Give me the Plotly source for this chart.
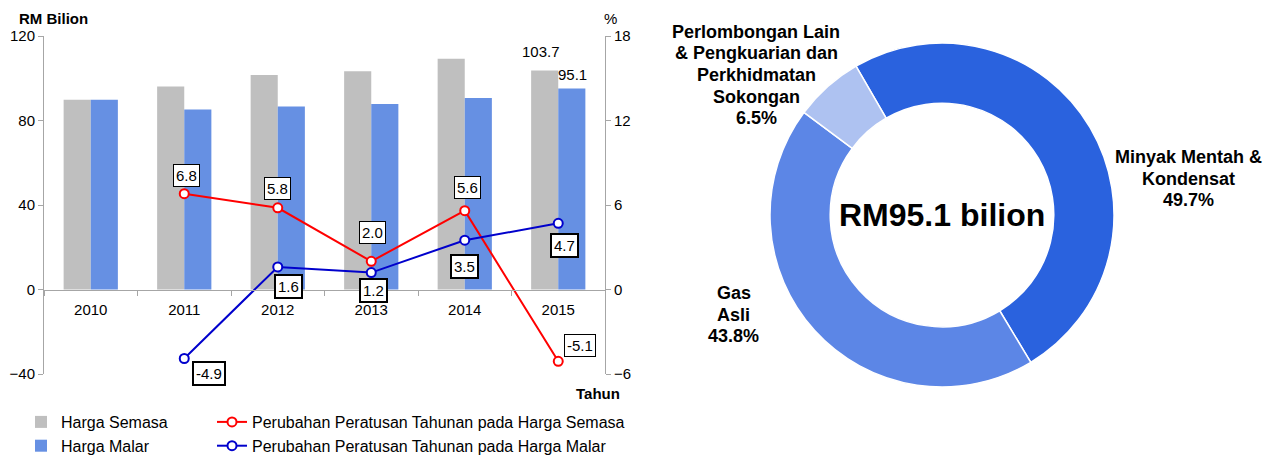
import plotly.graph_objects as go

W, H = 1272, 457
OFF = 8  # default page body margin
FW, FH = W - OFF, H - OFF

years = ["2010", "2011", "2012", "2013", "2014", "2015"]
harga_semasa = [89.8, 96.1, 101.5, 103.3, 109.2, 103.7]
harga_malar = [89.8, 85.2, 86.6, 87.8, 90.6, 95.1]
line_years = ["2011", "2012", "2013", "2014", "2015"]
pct_semasa = [6.8, 5.8, 2.0, 5.6, -5.1]
pct_malar = [-4.9, 1.6, 1.2, 3.5, 4.7]

pie_labels = [["Minyak Mentah &", "Kondensat"], ["Gas", "Asli"],
              ["Perlombongan Lain", "& Pengkuarian dan", "Perkhidmatan", "Sokongan"]]
pie_values = [49.7, 43.8, 6.5]
pie_colors = ["#2A62DE", "#5C86E6", "#AEC2F1"]
pie_total_text = "RM95.1 bilion"

FONT = "Liberation Sans, Arial, sans-serif"


def px(x):
    return (x - OFF) / FW


def py(y):
    return 1 - (y - OFF) / FH


fig = go.Figure()

fig.add_trace(go.Bar(x=years, y=harga_semasa, name="Harga Semasa",
                     marker=dict(color="#BFBFBF", line=dict(width=0)),
                     legend="legend", hoverinfo="skip"))
fig.add_trace(go.Bar(x=years, y=harga_malar, name="Harga Malar",
                     marker=dict(color="#6690E3", line=dict(width=0)),
                     legend="legend", hoverinfo="skip"))
fig.add_trace(go.Scatter(x=line_years, y=pct_semasa, yaxis="y2",
                         name="Perubahan Peratusan Tahunan pada Harga Semasa",
                         mode="lines+markers",
                         line=dict(color="#FF0000", width=2),
                         marker=dict(symbol="circle", size=9, color="white",
                                     line=dict(color="#FF0000", width=2)),
                         legend="legend2"))
fig.add_trace(go.Scatter(x=line_years, y=pct_malar, yaxis="y2",
                         name="Perubahan Peratusan Tahunan pada Harga Malar",
                         mode="lines+markers",
                         line=dict(color="#0000CC", width=2),
                         marker=dict(symbol="circle", size=9, color="white",
                                     line=dict(color="#0000CC", width=2)),
                         legend="legend2"))

# donut
cx, cy, r = 942, 215, 172
pie_names = [" ".join(l) for l in pie_labels]
fig.add_trace(go.Pie(values=pie_values, labels=pie_names, sort=False,
                     direction="clockwise", rotation=-30, hole=0.65,
                     marker=dict(colors=pie_colors, line=dict(color="white", width=1.5)),
                     textinfo="none", showlegend=False, hoverinfo="skip",
                     domain=dict(x=[px(cx - r), px(cx + r)], y=[py(cy + r), py(cy - r)])))

annotations = []

# line value boxes (category axis annotations use the category index)
red_off = [(2, 18), (0, 19), (1, 29), (3, 23), (22, 16)]
blue_off = [(25, -15), (11, -20), (2, -18), (0, -26), (6, -22)]
for yr, v, (dx, dy) in zip(line_years, pct_semasa, red_off):
    annotations.append(dict(x=years.index(yr), y=v, xref="x", yref="y2", text=f"{v:.1f}",
                            showarrow=False, xshift=dx, yshift=dy,
                            font=dict(size=15, color="black", family=FONT),
                            bgcolor="white", bordercolor="black", borderwidth=1, borderpad=2))
for yr, v, (dx, dy) in zip(line_years, pct_malar, blue_off):
    annotations.append(dict(x=years.index(yr), y=v, xref="x", yref="y2", text=f"{v:.1f}",
                            showarrow=False, xshift=dx, yshift=dy,
                            font=dict(size=15, color="black", family=FONT),
                            bgcolor="white", bordercolor="black", borderwidth=2, borderpad=2))

# bar value labels for last year
last = len(years) - 1
annotations.append(dict(x=last, y=harga_semasa[-1], xref="x", yref="y",
                        text=f"{harga_semasa[-1]:.1f}", showarrow=False,
                        xshift=-17, yshift=8, yanchor="bottom",
                        font=dict(size=15, color="black", family=FONT)))
annotations.append(dict(x=last, y=harga_malar[-1], xref="x", yref="y",
                        text=f"{harga_malar[-1]:.1f}", showarrow=False,
                        xshift=14, yshift=4, yanchor="bottom",
                        font=dict(size=15, color="black", family=FONT)))

# axis titles
annotations.append(dict(x=px(17), y=py(8), xref="paper", yref="paper", text="<b>RM Bilion</b>",
                        showarrow=False, xanchor="left", yanchor="top",
                        font=dict(size=15, color="black", family=FONT)))
annotations.append(dict(x=px(610), y=py(8), xref="paper", yref="paper", text="%",
                        showarrow=False, xanchor="center", yanchor="top",
                        font=dict(size=15, color="black", family=FONT)))
annotations.append(dict(x=px(598), y=py(393), xref="paper", yref="paper", text="<b>Tahun</b>",
                        showarrow=False, xanchor="center", yanchor="middle",
                        font=dict(size=15, color="black", family=FONT)))

# donut labels, one annotation per line
pie_label_pos = [(1188, 157), (734, 293), (756, 32)]
LINE = 21.5
for lines, v, (lx, ly) in zip(pie_labels, pie_values, pie_label_pos):
    for i, t in enumerate(lines + [f"{v:.1f}%"]):
        annotations.append(dict(x=px(lx), y=py(ly + i * LINE), xref="paper", yref="paper",
                                text=f"<b>{t}</b>", showarrow=False,
                                xanchor="center", yanchor="middle", align="center",
                                font=dict(size=18, color="black", family=FONT)))
annotations.append(dict(x=px(cx), y=py(cy), xref="paper", yref="paper",
                        text=f"<b>{pie_total_text}</b>", showarrow=False,
                        xanchor="center", yanchor="middle",
                        font=dict(size=32, color="black", family=FONT)))

axis_gray = "#A6A6A6"
y_dom = [py(374), py(36)]
zero_pos = y_dom[0] + (0 - (-40)) / 160 * (y_dom[1] - y_dom[0])

fig.update_layout(
    width=FW, height=FH, autosize=False,
    margin=dict(l=0, r=0, t=0, b=0, autoexpand=False),
    paper_bgcolor="white", plot_bgcolor="white",
    font=dict(family=FONT, size=15, color="black"),
    barmode="group", bargap=0.42, bargroupgap=0,
    xaxis=dict(domain=[px(44), px(605)], type="category", anchor="free",
               position=zero_pos, showgrid=False, zeroline=False, automargin=False,
               showline=True, linecolor=axis_gray, linewidth=1,
               ticks="outside", tickson="boundaries", ticklen=5, tickcolor=axis_gray,
               ticklabelstandoff=6, tickfont=dict(size=15), tickangle=0),
    yaxis=dict(domain=y_dom, range=[-40, 120], tickvals=[-40, 0, 40, 80, 120],
               showgrid=False, zeroline=False, showline=True, linecolor=axis_gray,
               automargin=False,
               ticks="outside", ticklen=5, tickcolor=axis_gray, tickfont=dict(size=15)),
    yaxis2=dict(overlaying="y", side="right", range=[-6, 18], tickvals=[-6, 0, 6, 12, 18],
                showgrid=False, zeroline=False, showline=True, linecolor=axis_gray,
                automargin=False,
                ticks="outside", ticklen=5, tickcolor=axis_gray, tickfont=dict(size=15)),
    legend=dict(x=px(21), y=py(405), xanchor="left", yanchor="top",
                orientation="v", font=dict(size=16), bgcolor="rgba(0,0,0,0)",
                traceorder="normal", tracegroupgap=0),
    legend2=dict(x=px(212), y=py(405), xanchor="left", yanchor="top",
                 orientation="v", font=dict(size=16), bgcolor="rgba(0,0,0,0)",
                 traceorder="normal", tracegroupgap=0),
    annotations=annotations,
)

fig.write_html("out.html")
